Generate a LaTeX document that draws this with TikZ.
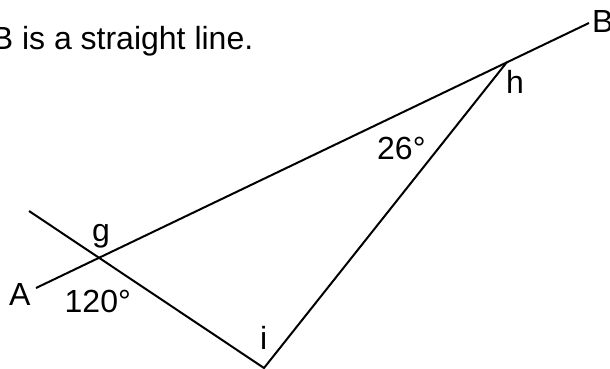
\documentclass[tikz,border=0pt]{standalone}
\usepackage{fontspec}
\setmainfont{Liberation Sans}
\begin{document}
\begin{tikzpicture}[x=1pt,y=-1pt,
  lbl/.style={anchor=base west,inner sep=0pt,font=\fontsize{32}{38}\selectfont},
  ln/.style={line width=2pt,black}]
\useasboundingbox (0,0) rectangle (610,369);
\clip (0,0) rectangle (610,369);
% points
\coordinate (A) at (36,288);
\coordinate (B) at (589,23);
\coordinate (T) at (29,211);
\coordinate (g) at (99,258);
\coordinate (h) at (507,62);
\coordinate (i) at (264,368);
% lines
\draw[ln] (A) -- (B);
\draw[ln] (T) -- (i) -- (h);
% labels
\node[lbl] (title) at (-8.4,50) {B is a straight line.};
\node[lbl] (labB) at (592,33) {B};
\node[lbl] (labh) at (506,93) {h};
\node[lbl] (lab26) at (377,159) {26°};
\node[lbl] (labg) at (92,241.6) {g};
\node[lbl] (labA) at (9,305) {A};
\node[lbl] (lab120) at (64.5,312) {120°};
\node[lbl] (labi) at (260,349) {i};
\end{tikzpicture}
\end{document}
